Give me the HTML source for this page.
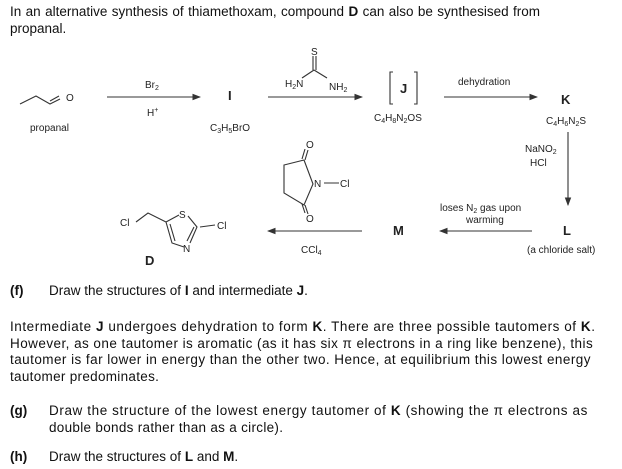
<!DOCTYPE html>
<html><head><meta charset="utf-8"><style>
body{margin:0;background:#fff;width:622px;height:469px;overflow:hidden;font-family:"Liberation Sans",sans-serif;color:#111}
.t{position:absolute;font-size:13.5px;white-space:nowrap;line-height:16px}
.j{text-align:justify;text-align-last:justify;white-space:normal}
svg{position:absolute;left:0;top:0}
svg text{font-family:"Liberation Sans",sans-serif;fill:#222}
</style></head><body>
<div class="t j" style="left:10px;top:4px;width:530px">In an alternative synthesis of thiamethoxam, compound <b>D</b> can also be synthesised from</div>
<div class="t" style="left:10px;top:21px">propanal.</div>
<svg width="622" height="280" viewBox="0 0 622 280">
<defs><marker id="a" markerWidth="8" markerHeight="6" refX="7" refY="3" orient="auto"><path d="M0,0L8,3L0,6z" fill="#333"/></marker></defs>
<g stroke="#333" stroke-width="1.1" fill="none">
<path d="M20,104L36,96L50,104L60,99M50,101L59,96"/>
<line x1="107" y1="97" x2="200" y2="97" marker-end="url(#a)"/>
<line x1="268" y1="97" x2="362" y2="97" marker-end="url(#a)"/>
<line x1="444" y1="97" x2="537" y2="97" marker-end="url(#a)"/>
<line x1="568" y1="132" x2="568" y2="205" marker-end="url(#a)"/>
<line x1="532" y1="231" x2="440" y2="231" marker-end="url(#a)"/>
<line x1="362" y1="231" x2="268" y2="231" marker-end="url(#a)"/>
<path d="M313,56L313,70M316,56L316,70M314,70L302,78M314,70L327,78"/>
<path d="M393,72L390,72L390,104L393,104M414,72L417,72L417,104L414,104"/>
<path d="M304,160L284,165L284,193L304,205L313,184L304,160M305,160L308,150M302,159L305,149M305,205L308,214M302,204L305,213M324,183L339,183"/>
<path d="M136,222L148,213L166,222L179,215M188,216L197,227L190,243M194,227L187,241M184,247L172,243L166,222M175,241L170,224M200,227L215,225"/>
</g>
<g font-size="10">
<text x="30" y="131">propanal</text>
<text x="66" y="101">O</text>
<text x="145" y="88">Br<tspan font-size="7" dy="2">2</tspan></text>
<text x="147" y="116">H<tspan font-size="7" dy="-4">+</tspan></text>
<text x="210" y="131">C<tspan font-size="7" dy="2">3</tspan><tspan dy="-2">H</tspan><tspan font-size="7" dy="2">5</tspan><tspan dy="-2">BrO</tspan></text>
<text x="311" y="55">S</text>
<text x="285" y="87">H<tspan font-size="7" dy="2">2</tspan><tspan dy="-2">N</tspan></text>
<text x="329" y="90">NH<tspan font-size="7" dy="2">2</tspan></text>
<text x="374" y="121">C<tspan font-size="7" dy="2">4</tspan><tspan dy="-2">H</tspan><tspan font-size="7" dy="2">8</tspan><tspan dy="-2">N</tspan><tspan font-size="7" dy="2">2</tspan><tspan dy="-2">OS</tspan></text>
<text x="458" y="85">dehydration</text>
<text x="546" y="124">C<tspan font-size="7" dy="2">4</tspan><tspan dy="-2">H</tspan><tspan font-size="7" dy="2">6</tspan><tspan dy="-2">N</tspan><tspan font-size="7" dy="2">2</tspan><tspan dy="-2">S</tspan></text>
<text x="525" y="152">NaNO<tspan font-size="7" dy="2">2</tspan></text>
<text x="530" y="166">HCl</text>
<text x="440" y="211">loses N<tspan font-size="7" dy="2">2</tspan><tspan dy="-2"> gas upon</tspan></text>
<text x="466" y="223">warming</text>
<text x="527" y="253">(a chloride salt)</text>
<text x="301" y="253">CCl<tspan font-size="7" dy="2">4</tspan></text>
<text x="306" y="148">O</text>
<text x="306" y="222">O</text>
<text x="314" y="187">N</text>
<text x="340" y="187">Cl</text>
<text x="120" y="226">Cl</text>
<text x="179" y="218">S</text>
<text x="217" y="229">Cl</text>
<text x="183" y="252">N</text>
</g>
<g font-size="13" font-weight="bold" fill="#111">
<text x="228" y="100">I</text>
<text x="400" y="93">J</text>
<text x="561" y="104">K</text>
<text x="563" y="235">L</text>
<text x="393" y="235">M</text>
<text x="145" y="265">D</text>
</g>
</svg>
<div class="t" style="left:10px;top:283px"><b>(f)</b></div>
<div class="t" style="left:49px;top:283px">Draw the structures of <b>I</b> and intermediate <b>J</b>.</div>
<div class="t" style="left:10px;top:319px;letter-spacing:0.55px">Intermediate <b>J</b> undergoes dehydration to form <b>K</b>. There are three possible tautomers of <b>K</b>.</div>
<div class="t" style="left:10px;top:336px;letter-spacing:0.45px">However, as one tautomer is aromatic (as it has six π electrons in a ring like benzene), this</div>
<div class="t" style="left:10px;top:352px;letter-spacing:0.45px">tautomer is far lower in energy than the other two. Hence, at equilibrium this lowest energy</div>
<div class="t" style="left:10px;top:369px;letter-spacing:0.3px">tautomer predominates.</div>
<div class="t" style="left:10px;top:403px"><b>(g)</b></div>
<div class="t" style="left:49px;top:403px;letter-spacing:0.6px">Draw the structure of the lowest energy tautomer of <b>K</b> (showing the π electrons as</div>
<div class="t" style="left:49px;top:420px;letter-spacing:0.3px">double bonds rather than as a circle).</div>
<div class="t" style="left:10px;top:449px"><b>(h)</b></div>
<div class="t" style="left:49px;top:449px">Draw the structures of <b>L</b> and <b>M</b>.</div>
</body></html>
